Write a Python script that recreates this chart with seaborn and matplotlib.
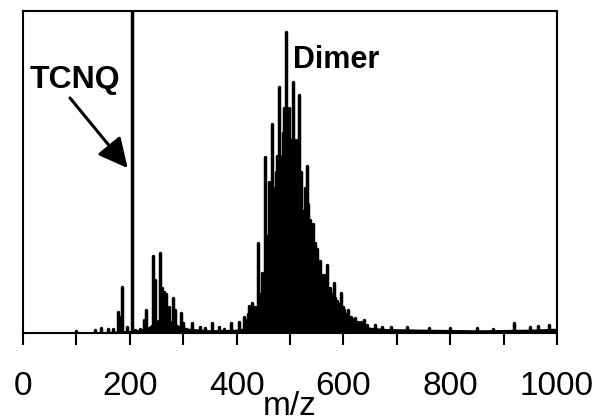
import numpy as np
import pandas as pd
import matplotlib
matplotlib.use("Agg")
import matplotlib.pyplot as plt
import seaborn as sns
from matplotlib.ticker import MultipleLocator

# ---- data (m/z, relative intensity; 100 = top of frame) ----
peak_mz = [100, 135, 147, 159, 168, 177, 180, 185, 194,
           204,
           209, 219, 226, 230, 243, 248, 256, 260, 264, 268, 273, 280, 285, 295, 299,
           316, 331, 340, 353, 367, 376, 390, 405, 413, 417, 421, 424, 428, 431, 434, 437,
           440, 443.5, 447, 450.5, 454, 457.5, 461, 464, 467, 470, 474, 476.5,
           479, 482, 486, 489, 492, 495, 498, 501, 505, 508, 511, 514, 517, 520.5,
           524, 527.5, 531, 534.5, 538, 541, 544, 547, 550, 553.5, 557, 560.5,
           563, 566, 569, 572, 575, 578, 582, 585, 588, 591, 596, 599, 602, 605,
           608, 611, 614, 617, 621, 627, 633, 639, 645,
           660, 672, 690, 720, 760, 800, 850, 880, 920, 950, 965, 985]
peak_int = [0.6, 1.0, 1.5, 1.2, 1.2, 6.5, 5.0, 14.3, 1.9,
            140,
            1.0, 1.2, 4.0, 7.0, 24, 16.5, 25, 14, 12.8, 12, 8, 11, 7, 6.2, 3,
            3.1, 1.9, 1.6, 3.1, 2.0, 1.2, 3.1, 3.4, 5.0, 4.0, 6.0, 8.4, 9.3, 5.0, 8.0, 6.0,
            28, 12, 18.6, 15, 54.7, 30, 47, 40, 65, 45, 50, 55,
            76.5, 55, 62, 70, 93.5, 65, 70, 60, 78, 60, 54, 60, 74, 50,
            38, 45, 52, 40, 35, 30, 34, 28, 26, 22, 22.5, 18,
            18, 16, 21, 14, 14, 12, 15.5, 11, 10, 9, 12.4, 8, 7, 6,
            7, 5, 5, 4.5, 4.6, 3.5, 3.4, 4.0, 2.5,
            2.5, 2.0, 2.0, 1.8, 1.7, 1.6, 1.6, 1.3, 3.0, 2.0, 2.2, 2.5]

env_mz = [0, 90, 130, 170, 200, 220, 235, 250, 262, 275, 290, 310, 350, 400,
          430, 440, 450, 460, 470, 480, 490, 500, 510, 520, 530, 540, 550,
          560, 570, 580, 590, 600, 615, 630, 650, 680, 750, 850, 950, 1000]
env_int = [0, 0, 0.3, 0.6, 0.8, 1.2, 2, 4, 5, 4, 2.5, 1.5, 1, 1.2,
           2, 5, 10, 15, 20, 25, 30, 32, 31, 29, 25, 21, 17,
           14, 11, 9, 7, 5, 3.5, 2.5, 1.8, 1.4, 1.2, 1.0, 1.2, 1.5]

xticks_major = [0, 200, 400, 600, 800, 1000]

# ---- build stick table ----
rows = []
for i, (m, v) in enumerate(zip(peak_mz, peak_int)):
    rows.append((i, m, 0.0))
    rows.append((i, m, v))
sticks = pd.DataFrame(rows, columns=["peak", "mz", "intensity"])

sns.set_style("white")
plt.rcParams["font.family"] = ["Liberation Sans", "DejaVu Sans"]
plt.rcParams["text.color"] = "black"
plt.rcParams["axes.labelcolor"] = "black"
plt.rcParams["xtick.color"] = "black"

fig = plt.figure(figsize=(5.99, 4.19), dpi=100)
ax = fig.add_axes([23/599, 1 - 333/419, (557-23)/599, (333-11)/419])

ax.fill_between(env_mz, env_int, 0, color="black", lw=0)
sns.lineplot(data=sticks, x="mz", y="intensity", units="peak", estimator=None,
             color="black", lw=2.5, ax=ax, legend=False)

ax.set_xlim(0, 1000)
ax.set_ylim(0, 100)
ax.set_yticks([])
ax.set_ylabel("")
ax.set_xticks(xticks_major)
ax.set_xticklabels([str(t) for t in xticks_major])
ax.xaxis.set_minor_locator(MultipleLocator(100))
ax.tick_params(axis="x", which="both", direction="out", length=8.6, width=1.5,
               color="black", bottom=True, top=False)
ax.tick_params(axis="x", which="major", labelsize=24, pad=19, labelcolor="black")
for s in ax.spines.values():
    s.set_color("black")
    s.set_linewidth(1.5)

ax.set_xlabel("m/z", fontsize=24, labelpad=-8, color="black")

ax.text(13, 76, "TCNQ", fontsize=23, fontweight="bold", ha="left", va="baseline", color="black")
ax.text(505, 82.3, "Dimer", fontsize=22, fontweight="bold", ha="left", va="baseline", color="black")
ax.annotate("", xy=(196, 51.2), xytext=(88, 73),
            arrowprops=dict(arrowstyle="-|>,head_length=1.0,head_width=0.5",
                            mutation_scale=18, lw=2.2, color="black",
                            shrinkA=0, shrinkB=0))

fig.savefig("out.png", dpi=100)
